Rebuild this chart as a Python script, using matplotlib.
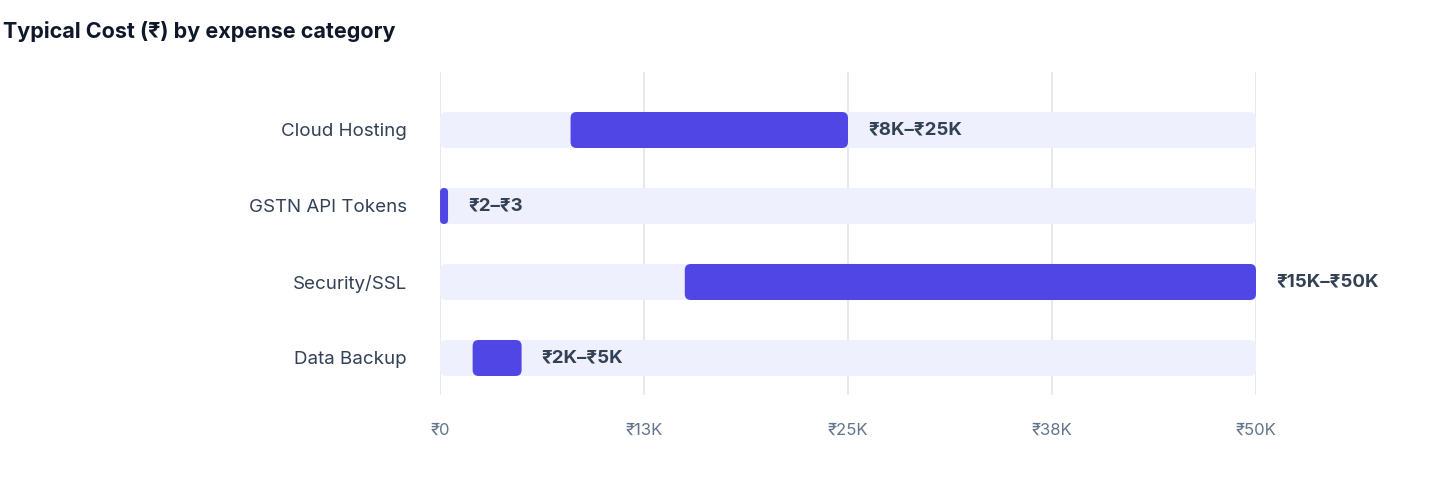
import matplotlib
matplotlib.use("Agg")
import matplotlib.pyplot as plt
from matplotlib.patches import FancyBboxPatch

categories = ["Cloud Hosting", "GSTN API Tokens", "Security/SSL", "Data Backup"]
low = [8000, 2, 15000, 2000]
high = [25000, 3, 50000, 5000]
labels = ["₹8K–₹25K", "₹2–₹3", "₹15K–₹50K", "₹2K–₹5K"]
xmax = 50000
ticks = [0, 12500, 25000, 37500, 50000]
tick_labels = ["₹0", "₹13K", "₹25K", "₹38K", "₹50K"]

plt.rcParams['font.family'] = ['Inter', 'DejaVu Sans']
fig = plt.figure(figsize=(14.4, 4.84), dpi=100)
ax = fig.add_axes([440/1440, 1-395/484, 816/1440, 323/484])
ax.set_xlim(0, xmax)
ax.set_ylim(-0.487, 3.763)
xpp = xmax/816
ypp = 1/76
asp = ypp/xpp
h = 36*ypp
r = 6*xpp
for t in ticks:
    ax.axvline(t, color="#e2e5ec", lw=1.2, zorder=0)
n = len(categories)
for i, (c, lo, hi, lab) in enumerate(zip(categories, low, high, labels)):
    y = n-1-i
    ax.add_patch(FancyBboxPatch((0, y-h/2), xmax, h, boxstyle=f"round,pad=0,rounding_size={r}",
                                mutation_aspect=asp, fc="#eef0fd", ec="none", zorder=1))
    w = max(hi-lo, 8*xpp)
    ax.add_patch(FancyBboxPatch((lo, y-h/2), w, h, boxstyle=f"round,pad=0,rounding_size={min(r, w/2)}",
                                mutation_aspect=asp, fc="#5046e5", ec="none", zorder=2))
    ax.text(lo+w+20*xpp, y, lab, va="center", ha="left", fontsize=13.5, fontweight="bold", color="#334155")
ax.set_yticks([n-1-i for i in range(n)])
ax.set_yticklabels(categories, fontsize=13.5, color="#334155")
ax.set_xticks(ticks)
ax.set_xticklabels(tick_labels, fontsize=12, color="#64748b")
ax.tick_params(length=0)
ax.tick_params(axis='y', pad=24)
ax.tick_params(axis='x', pad=20)
for s in ax.spines.values():
    s.set_visible(False)
fig.text(3/1440, 1-32/484, "Typical Cost (₹) by expense category", fontsize=15.5, fontweight="bold",
         color="#0f172a", va="center", ha="left")
fig.savefig("out.png", dpi=100)
